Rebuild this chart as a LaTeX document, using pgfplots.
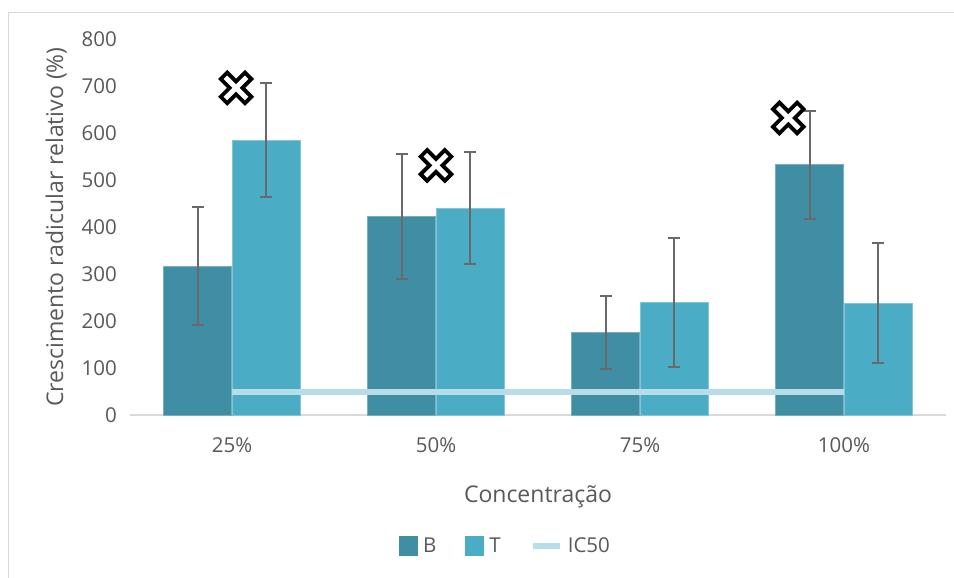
\documentclass[border=0pt]{standalone}
\usepackage{fontspec}
\setmainfont{Open Sans}
\usepackage{pgfplots}
\pgfplotsset{compat=1.18}
\definecolor{cB}{RGB}{64,142,163}
\definecolor{cT}{RGB}{75,172,198}
\definecolor{cIC}{RGB}{183,222,232}
\definecolor{txt}{RGB}{89,89,89}
\definecolor{axgray}{RGB}{217,217,217}
\definecolor{errgray}{RGB}{105,105,105}
\newcommand{\tickfont}{\fontsize{20.5bp}{24bp}\selectfont}
\newcommand{\labfont}{\fontsize{23bp}{27bp}\selectfont}
\begin{document}
\begin{tikzpicture}
\useasboundingbox (0,0) rectangle (954bp,578bp);
\fill[white] (0,0) rectangle (954bp,578bp);
\draw[axgray, line width=1.3bp] (8.5bp,-20bp) -- (8.5bp,565.3bp) -- (980bp,565.3bp);
\begin{axis}[
  at={(130bp,163bp)}, anchor=south west,
  scale only axis, width=816bp, height=376bp,
  xmin=0.5, xmax=4.5, ymin=0, ymax=800,
  xtick={1,2,3,4}, xticklabels={25\%,50\%,75\%,100\%},
  ytick={0,100,...,800},
  major tick length=0pt,
  axis x line*=bottom, axis y line*=left,
  x axis line style={-, draw=axgray, line width=1.3bp},
  y axis line style={draw=none},
  /pgf/number format/assume math mode=true,
  tick label style={font=\tickfont, text=txt, inner sep=0pt},
  xticklabel style={anchor=base, yshift=-37bp},
  yticklabel style={anchor=east, xshift=-13bp},
  xlabel={Concentração}, ylabel={Crescimento radicular relativo (\%)},
  every axis x label/.style={at={(axis description cs:0.5,0)}, anchor=base, yshift=-87bp, font=\labfont, text=txt, inner sep=0pt},
  every axis y label/.style={at={(axis description cs:0,0.5)}, xshift=-67bp, rotate=90, anchor=base, font=\labfont, text=txt, inner sep=0pt},
  legend columns=3,
  legend style={draw=none, fill=none, at={(axis description cs:0.459,-0.348)}, anchor=center,
    font=\tickfont, text=txt, nodes={inner sep=0pt},
    /tikz/every even column/.append style={column sep=29bp},
    /tikz/every odd column/.append style={column sep=5bp}},
  clip=false,
]
\addplot[ybar, bar width=68bp, bar shift=0pt, fill=cB, draw=cB!70!white, line width=1bp,
  legend image code/.code={\fill[cB] (0bp,-9.5bp) rectangle (18bp,9.5bp);},
  error bars/.cd, y dir=both, y explicit,
  error bar style={errgray, line width=2bp},
  error mark options={rotate=90, errgray, line width=2bp, mark size=6.3bp}]
  coordinates {(0.8333,317) +- (0,126) (1.8333,423) +- (0,133) (2.8333,176) +- (0,78) (3.8333,532) +- (0,114)};
\addlegendentry{B}
\addplot[ybar, bar width=68bp, bar shift=0pt, fill=cT, draw=cT!70!white, line width=1bp,
  legend image code/.code={\fill[cT] (0bp,-9.5bp) rectangle (18bp,9.5bp);},
  error bars/.cd, y dir=both, y explicit,
  error bar style={errgray, line width=2bp},
  error mark options={rotate=90, errgray, line width=2bp, mark size=6.3bp}]
  coordinates {(1.1667,585) +- (0,122) (2.1667,440) +- (0,119) (3.1667,239) +- (0,137) (4.1667,238) +- (0,128)};
\addlegendentry{T}
\addplot[cIC, line width=6bp, no marks,
  legend image code/.code={\draw[cIC, line width=6bp] (0bp,0bp) -- (27bp,0bp);}]
  coordinates {(1,50) (2,50) (3,50) (4,50)};
\addlegendentry{IC50}
\addplot[only marks, mark=x, mark size=19bp, mark options={black, line width=13bp}, forget plot]
  coordinates {(1.02,696) (2.0,531) (3.727,632)};
\addplot[only marks, mark=x, mark size=15bp, mark options={white, line width=5bp}, forget plot]
  coordinates {(1.02,696) (2.0,531) (3.727,632)};
\end{axis}
\end{tikzpicture}
\end{document}
